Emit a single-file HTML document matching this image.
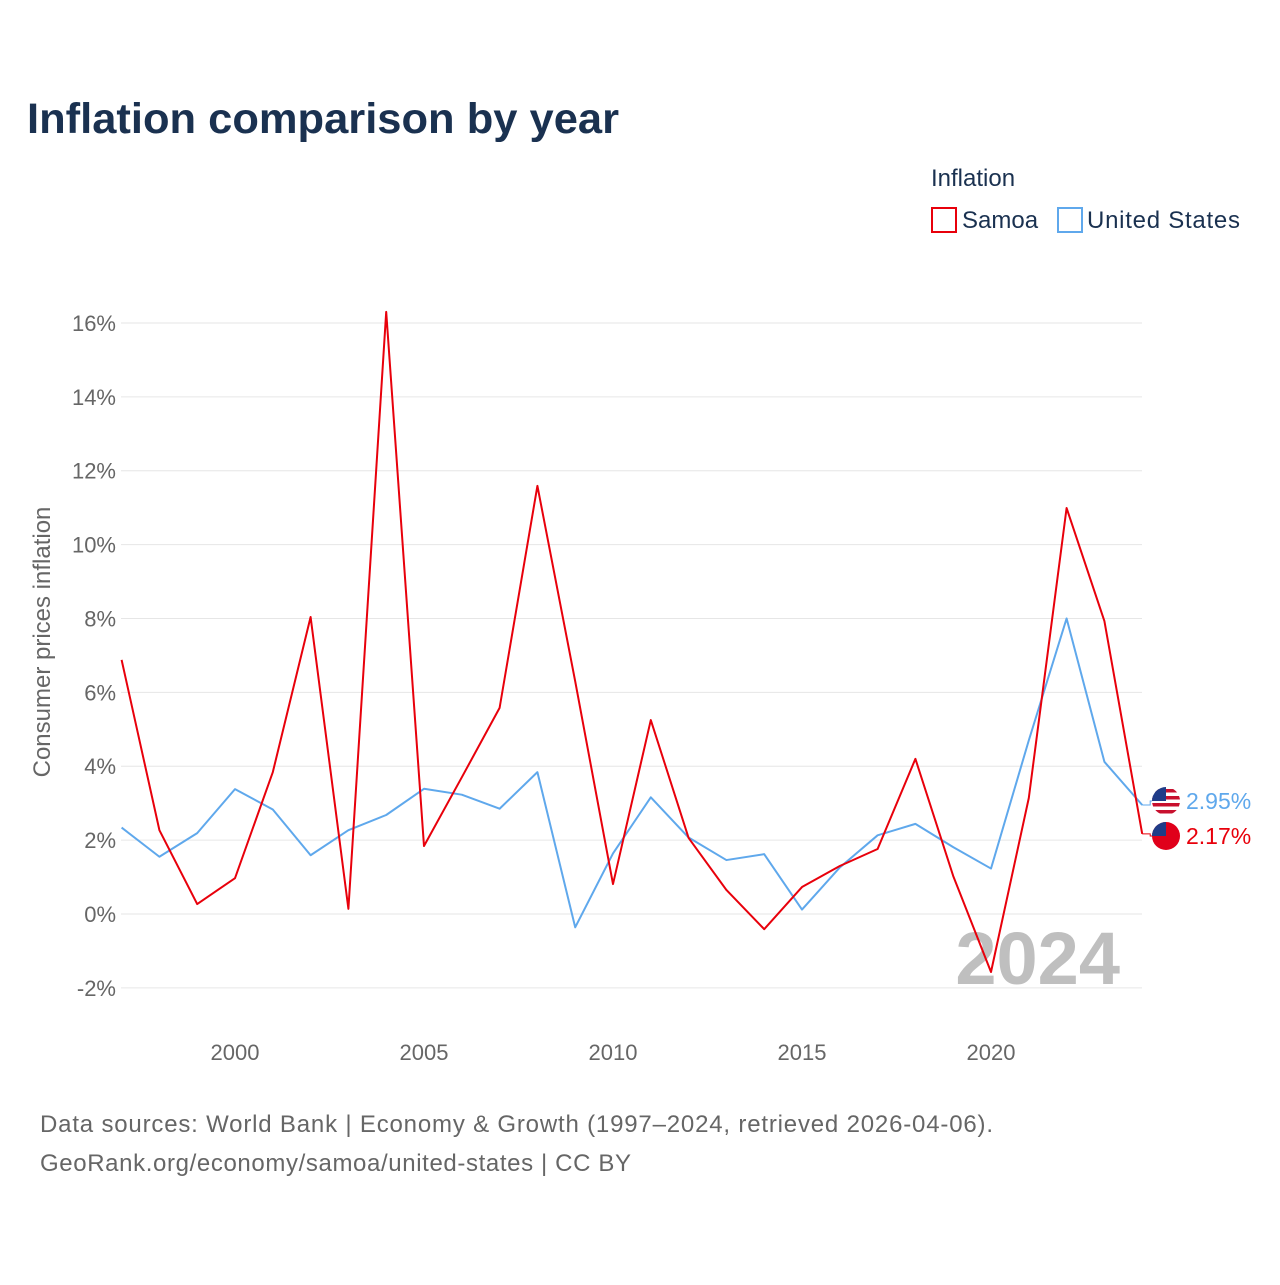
<!DOCTYPE html>
<html><head><meta charset="utf-8"><style>
body{margin:0;background:#fff;font-family:"Liberation Sans",sans-serif}
</style></head><body>
<svg width="1280" height="1280" viewBox="0 0 1280 1280" xmlns="http://www.w3.org/2000/svg">
<defs><clipPath id="cUS"><circle cx="1166" cy="801" r="14"/></clipPath></defs>
<text x="27" y="133" font-size="43" font-weight="bold" fill="#1a3150" textLength="592" lengthAdjust="spacingAndGlyphs">Inflation comparison by year</text>
<text x="931" y="186" font-size="24" fill="#1a3150">Inflation</text>
<g><rect x="932" y="208" width="24" height="24" fill="none" stroke="#e8000b" stroke-width="2"/><text x="962" y="228" font-size="24" fill="#1a3150">Samoa</text></g>
<g><rect x="1058" y="208" width="24" height="24" fill="none" stroke="#5fa8ec" stroke-width="2"/><text x="1087" y="228" font-size="24" fill="#1a3150" textLength="153">United States</text></g>
<g id="grid"></g>
<g id="yticks"></g>
<g id="xticks"></g>
<text x="1120" y="984" text-anchor="end" font-size="74" font-weight="bold" fill="#bfbfbf">2024</text>
<text transform="translate(50,642) rotate(-90)" text-anchor="middle" font-size="24" fill="#666">Consumer prices inflation</text>
<g id="series"></g>
<text x="40" y="1132" font-size="24" fill="#666" textLength="953">Data sources: World Bank | Economy &amp; Growth (1997–2024, retrieved 2026-04-06).</text>
<text x="40" y="1171" font-size="24" fill="#666" textLength="591">GeoRank.org/economy/samoa/united-states | CC BY</text>
</svg>
<script>
const years=[1997,1998,1999,2000,2001,2002,2003,2004,2005,2006,2007,2008,2009,2010,2011,2012,2013,2014,2015,2016,2017,2018,2019,2020,2021,2022,2023,2024];
const samoa=[6.88,2.27,0.27,0.97,3.84,8.04,0.14,16.3,1.84,3.7,5.58,11.59,6.3,0.81,5.25,2.06,0.65,-0.41,0.73,1.3,1.76,4.2,1.03,-1.57,3.14,10.99,7.93,2.17];
const us=[2.34,1.55,2.19,3.38,2.83,1.59,2.27,2.68,3.39,3.23,2.85,3.84,-0.36,1.64,3.16,2.07,1.46,1.62,0.12,1.26,2.13,2.44,1.81,1.23,4.7,8.0,4.12,2.95];
const yTicks=[-2,0,2,4,6,8,10,12,14,16];
const xTicks=[2000,2005,2010,2015,2020];
const NS="http://www.w3.org/2000/svg";
const X=y=>121.6+(y-1997)*37.8;
const Y=v=>914-v*36.94;
function mk(t,a,p){const e=document.createElementNS(NS,t);for(const k in a)e.setAttribute(k,a[k]);p.appendChild(e);return e;}
const grid=document.getElementById('grid'),yt=document.getElementById('yticks'),xt=document.getElementById('xticks'),ser=document.getElementById('series');
yTicks.forEach(v=>{
 const l=mk('line',{x1:121,x2:1142,y1:Y(v),y2:Y(v),stroke:'#e6e6e6','stroke-width':1},grid);
 
 
 const t=mk('text',{x:116,y:Y(v)+8,'text-anchor':'end','font-size':22,fill:'#666'},yt);
 t.textContent=v+'%';
 
 
});
xTicks.forEach(v=>{
 const t=mk('text',{x:X(v),y:1060,'text-anchor':'middle','font-size':22,fill:'#666'},xt);
 t.textContent=v;
 
 
});
function line(d,c,name){
 const p=mk('polyline',{points:d.map((v,i)=>X(years[i])+','+Y(v)).join(' '),fill:'none',stroke:c,'stroke-width':2,'stroke-linejoin':'round'},ser);
 
 
}
line(us,'#5fa8ec','line-united-states');
line(samoa,'#e8000b','line-samoa');
function endLabel(v,c,ly,name,flag){
 const lx=X(years[years.length-1]);
 mk('polyline',{points:lx+','+Y(v)+' '+(lx+8)+','+Y(v)+' '+(lx+8)+','+ly+' '+(lx+12)+','+ly,fill:'none',stroke:c,'stroke-width':1},ser);
 const g=mk('g',{},ser);
 
 
 if(flag==='flag-us'){
  g.setAttribute('clip-path','url(#cUS)');
  mk('circle',{cx:1166,cy:ly,r:14,fill:'#fff'},g);
  for(let i=0;i<4;i++)mk('rect',{x:1152,y:ly-12+i*7,width:28,height:3.5,fill:'#c8102e'},g);
  mk('rect',{x:1152,y:ly-14,width:14,height:14,fill:'#1f3c88'},g);
 }else{
  mk('circle',{cx:1166,cy:ly,r:14,fill:'#e0001a'},g);
  mk('path',{d:`M1152 ${ly} A14 14 0 0 1 1166 ${ly-14} V${ly} Z`,fill:'#1f3c88'},g);
 }
 const t=mk('text',{x:1186,y:ly+8,'font-size':23,fill:c},ser);
 t.textContent=v.toFixed(2)+'%';
 
 
}
endLabel(us[us.length-1],'#5fa8ec',801,'end-label-united-states','flag-us');
endLabel(samoa[samoa.length-1],'#e8000b',836,'end-label-samoa','flag-samoa');
</script>
</body></html>
